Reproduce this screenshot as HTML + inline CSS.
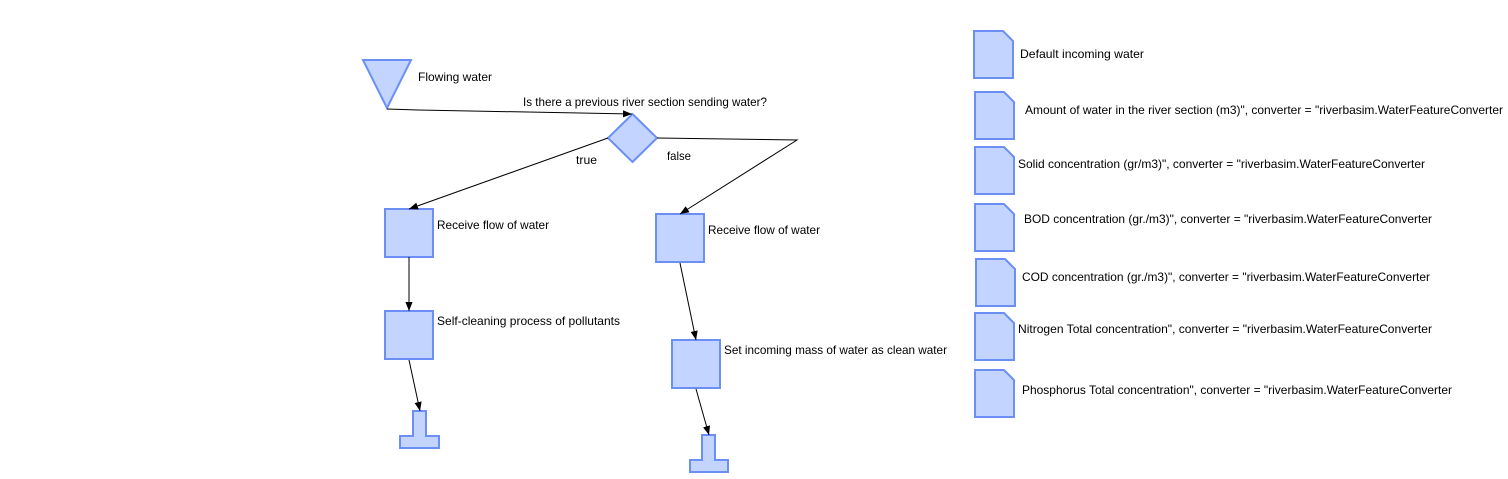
<!DOCTYPE html>
<html><head><meta charset="utf-8"><style>
html,body{margin:0;padding:0;background:#fff;width:1508px;height:479px;overflow:hidden}
text{font-family:"Liberation Sans",sans-serif;font-size:12px;fill:#000}
</style></head><body>
<svg width="1508" height="479" viewBox="0 0 1508 479" xmlns="http://www.w3.org/2000/svg">
<defs><marker id="a" viewBox="0 0 10 10" refX="10" refY="5" markerWidth="9" markerHeight="9" orient="auto" markerUnits="userSpaceOnUse"><path d="M0,1 L10,5 L0,9 z" fill="#000"/></marker></defs>
<g fill="#c2d4ff" stroke="#6b8ff5" stroke-width="2">
<polygon points="363,60 411,60 387,108"/>
<polygon points="632.5,114 657,138 632.5,162 608,138"/>
<rect x="385" y="209" width="48" height="48"/>
<rect x="385" y="311" width="48" height="48"/>
<rect x="656" y="214" width="48" height="48"/>
<rect x="672" y="340" width="48" height="48"/>
<polygon points="413,411 426,411 426,436 439,436 439,448 400,448 400,436 413,436"/>
<polygon points="702,435 715,435 715,460 728,460 728,472 690,472 690,460 702,460"/>
<path d="M974,31 L1003,31 L1013,41 L1013,78 L974,78 Z"/>
<path d="M975,92 L1004,92 L1014,102 L1014,139 L975,139 Z"/>
<path d="M975,147 L1004,147 L1014,157 L1014,194 L975,194 Z"/>
<path d="M975,204 L1004,204 L1014,214 L1014,251 L975,251 Z"/>
<path d="M976,259 L1005,259 L1015,269 L1015,306 L976,306 Z"/>
<path d="M975,313 L1004,313 L1014,323 L1014,360 L975,360 Z"/>
<path d="M975,370 L1004,370 L1014,380 L1014,417 L975,417 Z"/>
</g>
<g stroke="#000" stroke-width="1" fill="none">
<polyline points="387,109 418,110 632,114" marker-end="url(#a)"/>
<line x1="608" y1="138" x2="409" y2="209" marker-end="url(#a)"/>
<polyline points="657,138 797,140 680,214" marker-end="url(#a)"/>
<line x1="409" y1="257" x2="409" y2="311" marker-end="url(#a)"/>
<line x1="409" y1="360" x2="420" y2="411" marker-end="url(#a)"/>
<line x1="680" y1="263" x2="696" y2="340" marker-end="url(#a)"/>
<line x1="696" y1="389" x2="709" y2="435" marker-end="url(#a)"/>
</g>
<text x="418" y="81" textLength="74" lengthAdjust="spacingAndGlyphs">Flowing water</text>
<text x="523" y="106" textLength="244" lengthAdjust="spacingAndGlyphs">Is there a previous river section sending water?</text>
<text x="576" y="164" textLength="21" lengthAdjust="spacingAndGlyphs">true</text>
<text x="667" y="160" textLength="24" lengthAdjust="spacingAndGlyphs">false</text>
<text x="437" y="229" textLength="112" lengthAdjust="spacingAndGlyphs">Receive flow of water</text>
<text x="437" y="325" textLength="183" lengthAdjust="spacingAndGlyphs">Self-cleaning process of pollutants</text>
<text x="708" y="234" textLength="112" lengthAdjust="spacingAndGlyphs">Receive flow of water</text>
<text x="724" y="354" textLength="223" lengthAdjust="spacingAndGlyphs">Set incoming mass of water as clean water</text>
<text x="1020" y="58" textLength="124" lengthAdjust="spacingAndGlyphs">Default incoming water</text>
<text x="1025" y="114" textLength="478" lengthAdjust="spacingAndGlyphs">Amount of water in the river section (m3)", converter = "riverbasim.WaterFeatureConverter</text>
<text x="1018" y="168" textLength="407" lengthAdjust="spacingAndGlyphs">Solid concentration (gr/m3)", converter = "riverbasim.WaterFeatureConverter</text>
<text x="1024" y="223" textLength="408" lengthAdjust="spacingAndGlyphs">BOD concentration (gr./m3)", converter = "riverbasim.WaterFeatureConverter</text>
<text x="1022" y="281" textLength="408" lengthAdjust="spacingAndGlyphs">COD concentration (gr./m3)", converter = "riverbasim.WaterFeatureConverter</text>
<text x="1018" y="333" textLength="414" lengthAdjust="spacingAndGlyphs">Nitrogen Total concentration", converter = "riverbasim.WaterFeatureConverter</text>
<text x="1022" y="394" textLength="430" lengthAdjust="spacingAndGlyphs">Phosphorus Total concentration", converter = "riverbasim.WaterFeatureConverter</text>
</svg>
</body></html>
